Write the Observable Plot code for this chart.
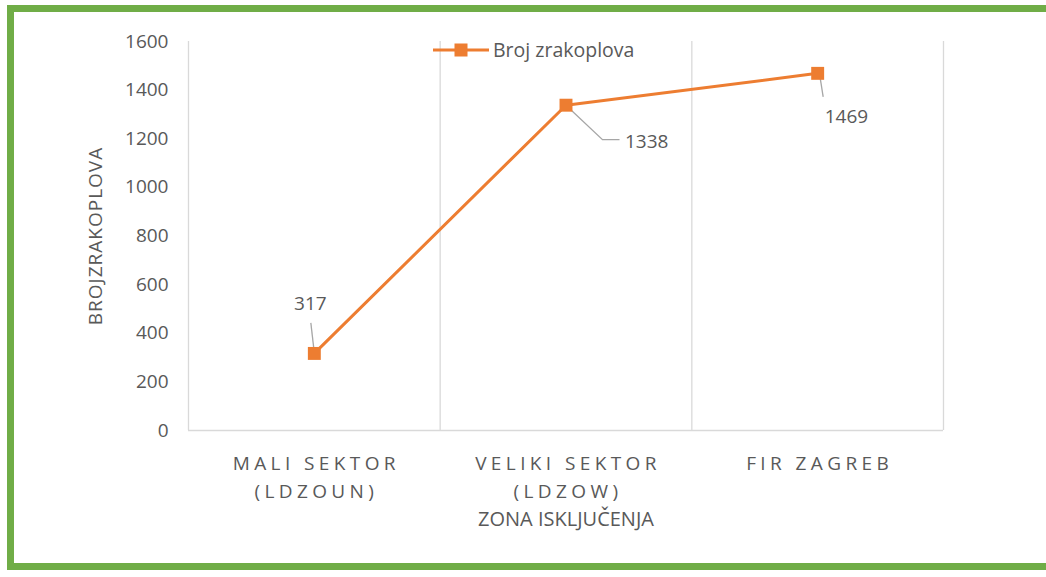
<!DOCTYPE html>
<html>
<head>
<meta charset="utf-8">
<script src="https://cdn.jsdelivr.net/npm/d3@7"></script>
<script src="https://cdn.jsdelivr.net/npm/@observablehq/plot@0.6"></script>
<style>
  html, body { margin: 0; padding: 0; background: #fff; }
  #wrap { position: relative; width: 1046px; height: 577px; overflow: hidden; }
  #border { position: absolute; left: 7px; top: 5px; width: 1100px; height: 565px;
            border-left: 7px solid #70AD47; border-top: 7px solid #70AD47; border-bottom: 7px solid #70AD47;
            box-sizing: border-box; pointer-events: none; }
  #legend { position: absolute; left: 433px; top: 36px; display: flex; align-items: center;
            font-family: "Open Sans", sans-serif; font-size: 19.5px; color: #595959; }
  g[aria-description="xcat"] text { letter-spacing: 4.4px; }
</style>
</head>
<body>
<div id="wrap">
  <div id="chart"></div>
  <div id="legend"></div>
  <div id="border"></div>
</div>
<script>
const categories = ["MALI SEKTOR\n(LDZOUN)", "VELIKI SEKTOR\n(LDZOW)", "FIR ZAGREB"];
const values = [317, 1338, 1469];
const yTicks = [0, 200, 400, 600, 800, 1000, 1200, 1400, 1600];
const seriesName = "Broj zrakoplova";
const xTitle = "ZONA ISKLJUČENJA";
const yTitle = "BROJZRAKOPLOVA";

const orange = "#ED7D31";
const gray = "#595959";
const grid = "#d9d9d9";

const rows = categories.map((c, i) => ({pos: i + 0.5, cat: c, value: values[i]}));
const n = categories.length;

const plot = Plot.plot({
  width: 1046,
  height: 577,
  marginLeft: 188,
  marginRight: 103,
  marginTop: 41,
  marginBottom: 147,
  style: {fontFamily: "'Open Sans', sans-serif", fontSize: "19px", color: gray, background: "transparent"},
  x: {domain: [0, n], axis: null},
  y: {domain: [0, 1600], ticks: yTicks, tickFormat: d3.format("d"), tickSize: 0, tickPadding: 20,
      label: yTitle, labelAnchor: "center", labelOffset: 100},
  marks: [
    Plot.ruleX(d3.range(0, n + 1), {y1: 0, y2: 1600, stroke: grid, strokeWidth: 1.3}),
    Plot.ruleY([0], {stroke: grid, strokeWidth: 1.3}),
    Plot.line(rows, {x: "pos", y: "value", stroke: orange, strokeWidth: 3}),
    Plot.dot(rows, {x: "pos", y: "value", symbol: "square", fill: orange, stroke: null, r: 7.3}),
    Plot.text([rows[0]], {x: "pos", y: "value", text: d => String(d.value), dx: -4, dy: -50, fill: gray}),
    Plot.text([rows[1]], {x: "pos", y: "value", text: d => String(d.value), dx: 59, dy: 37, textAnchor: "start", fill: gray}),
    Plot.text([rows[2]], {x: "pos", y: "value", text: d => String(d.value), dx: 7, dy: 44, textAnchor: "start", fill: gray}),
    Plot.text(rows, {x: "pos", text: "cat", frameAnchor: "bottom", dy: 20, dx: 2, lineAnchor: "top", lineHeight: 1.45, fill: gray, ariaDescription: "xcat"}),
    Plot.text([xTitle], {frameAnchor: "bottom", dy: 81, lineAnchor: "top", fill: gray, fontSize: 20, text: d => d})
  ]
});
document.getElementById("chart").appendChild(plot);

const svg = d3.select(plot);
// y-axis title: drop the arrow Plot appends, keep the plain title
svg.selectAll("text").filter(function() {
  return this.childElementCount === 0 && this.textContent.includes(yTitle);
}).text(yTitle).style("letter-spacing", "1px");

// leader lines using the plot's scales
const sx = plot.scale("x").apply, sy = plot.scale("y").apply;
const lg = svg.append("g").attr("stroke", "#a6a6a6").attr("stroke-width", 1.3).attr("fill", "none");
{
  const x = sx(rows[0].pos), y = sy(rows[0].value);
  lg.append("path").attr("d", `M${x},${y - 4}L${x - 3},${y - 30}`);
}
{
  const x = sx(rows[1].pos), y = sy(rows[1].value);
  lg.append("path").attr("d", `M${x + 1},${y + 1}L${x + 37},${y + 35}L${x + 54},${y + 35}`);
}
{
  const x = sx(rows[2].pos), y = sy(rows[2].value);
  lg.append("path").attr("d", `M${x + 3},${y + 5}L${x + 6},${y + 24}`);
}
// move leader lines beneath markers
const lineG = svg.select('g[aria-label="line"]').node();
if (lineG) svg.node().insertBefore(lg.node(), lineG);

// legend
document.getElementById("legend").innerHTML =
  `<svg width="56" height="20" style="margin-right:4px"><line x1="0" x2="56" y1="10" y2="10" stroke="${orange}" stroke-width="3"/><rect x="21.5" y="3.5" width="13" height="13" fill="${orange}"/></svg><span>${seriesName}</span>`;
</script>
</body>
</html>
